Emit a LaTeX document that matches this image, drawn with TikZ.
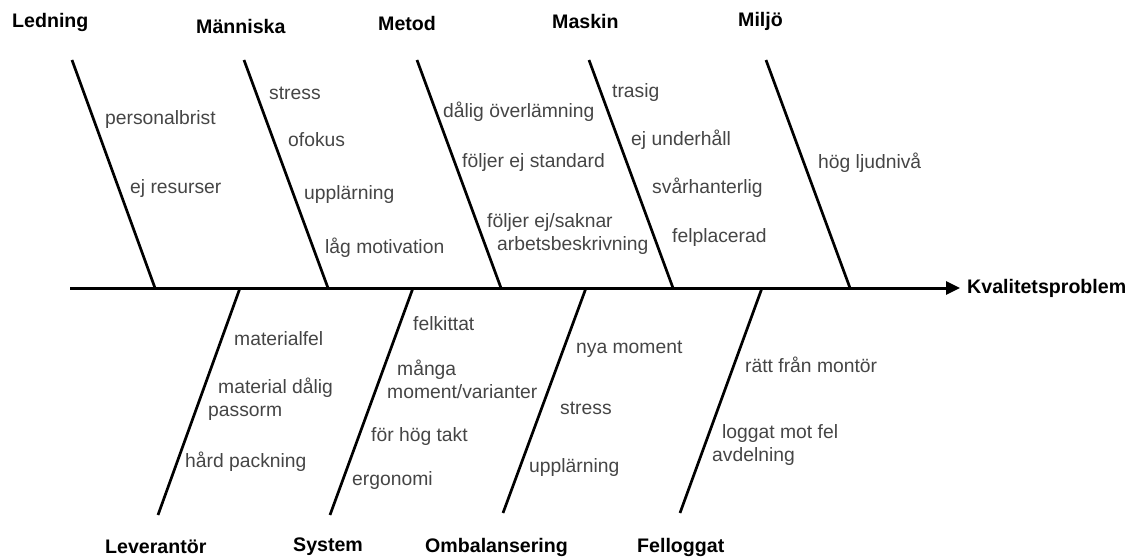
\documentclass[tikz,border=0pt]{standalone}
\usepackage{fontspec}
\setmainfont{Liberation Sans}
\usetikzlibrary{arrows.meta}
\definecolor{txtgray}{HTML}{454545}
\begin{document}
\begin{tikzpicture}[x=1pt,y=-1pt,
  head/.style={font=\fontsize{19.6}{23}\selectfont\bfseries, inner sep=0pt, anchor=west},
  cause/.style={font=\fontsize{19.3}{23}\selectfont, text=txtgray, inner sep=0pt, anchor=west, align=left},
  bone/.style={line width=2.7pt},
  spine/.style={line width=3pt, -{Triangle[length=14pt,width=13pt]}}]
\useasboundingbox (0,0) rectangle (1136,559);

% spine
\coordinate (s0) at (70,288);
\node[head] (effect) at (967,288) {Kvalitetsproblem};
\draw[spine] (s0) -- ([xshift=-7pt]effect.west);

% top bones
\coordinate (t1) at (72,60);   \coordinate (j1) at (155,288);
\coordinate (t2) at (244,60);  \coordinate (j2) at (328,288);
\coordinate (t3) at (417,60);  \coordinate (j3) at (501,288);
\coordinate (t4) at (589,60);  \coordinate (j4) at (673,288);
\coordinate (t5) at (766,60);  \coordinate (j5) at (850,288);
\draw[bone] (t1) -- (j1);
\draw[bone] (t2) -- (j2);
\draw[bone] (t3) -- (j3);
\draw[bone] (t4) -- (j4);
\draw[bone] (t5) -- (j5);

% bottom bones
\coordinate (k1) at (240,288); \coordinate (e1) at (158,515);
\coordinate (k2) at (413,288); \coordinate (e2) at (330,515);
\coordinate (k3) at (586,288); \coordinate (e3) at (503,513);
\coordinate (k4) at (762,288); \coordinate (e4) at (680,513);
\draw[bone] (k1) -- (e1);
\draw[bone] (k2) -- (e2);
\draw[bone] (k3) -- (e3);
\draw[bone] (k4) -- (e4);

% headings
\node[head] (h1) at (12,22) {Ledning};
\node[head] (h2) at (196,26) {Människa};
\node[head] (h3) at (378,23) {Metod};
\node[head] (h4) at (552,21) {Maskin};
\node[head] (h5) at (738,21) {Miljö};
\node[head] (h6) at (105,547) {Leverantör};
\node[head] (h7) at (293,547) {System};
\node[head] (h8) at (425,547) {Ombalansering};
\node[head] (h9) at (637,547) {Felloggat};

% causes: Ledning
\node[cause] (c11) at (105,120) {personalbrist};
\node[cause] (c12) at (130,189) {ej resurser};
% Människa
\node[cause] (c21) at (269,93) {stress};
\node[cause] (c22) at (288,140) {ofokus};
\node[cause] (c23) at (304,195) {upplärning};
\node[cause] (c24) at (325,248) {låg motivation};
% Metod
\node[cause] (c31) at (443,112) {dålig överlämning};
\node[cause] (c32) at (462,163) {följer ej standard};
\node[cause] (c33) at (487,234.5) {följer ej/saknar\\\hspace*{10pt}arbetsbeskrivning};
% Maskin
\node[cause] (c41) at (612,93) {trasig};
\node[cause] (c42) at (631,140) {ej underhåll};
\node[cause] (c43) at (652,188) {svårhanterlig};
\node[cause] (c44) at (672,238) {felplacerad};
% Miljö
\node[cause] (c51) at (818,163) {hög ljudnivå};
% Leverantör
\node[cause] (c61) at (234,339) {materialfel};
\node[cause] (c62) at (208,399.5) {\hspace*{10pt}material dålig\\passorm};
\node[cause] (c63) at (185,462) {hård packning};
% System
\node[cause] (c71) at (413,324) {felkittat};
\node[cause] (c72) at (387,379) {\hspace*{10pt}många\\moment/varianter};
\node[cause] (c73) at (371,437) {för hög takt};
\node[cause] (c74) at (352,481) {ergonomi};
% Ombalansering
\node[cause] (c81) at (576,349) {nya moment};
\node[cause] (c82) at (560,408) {stress};
\node[cause] (c83) at (529,468) {upplärning};
% Felloggat
\node[cause] (c91) at (745,365) {rätt från montör};
\node[cause] (c92) at (712,445.5) {\hspace*{10pt}loggat mot fel\\avdelning};
\end{tikzpicture}
\end{document}
